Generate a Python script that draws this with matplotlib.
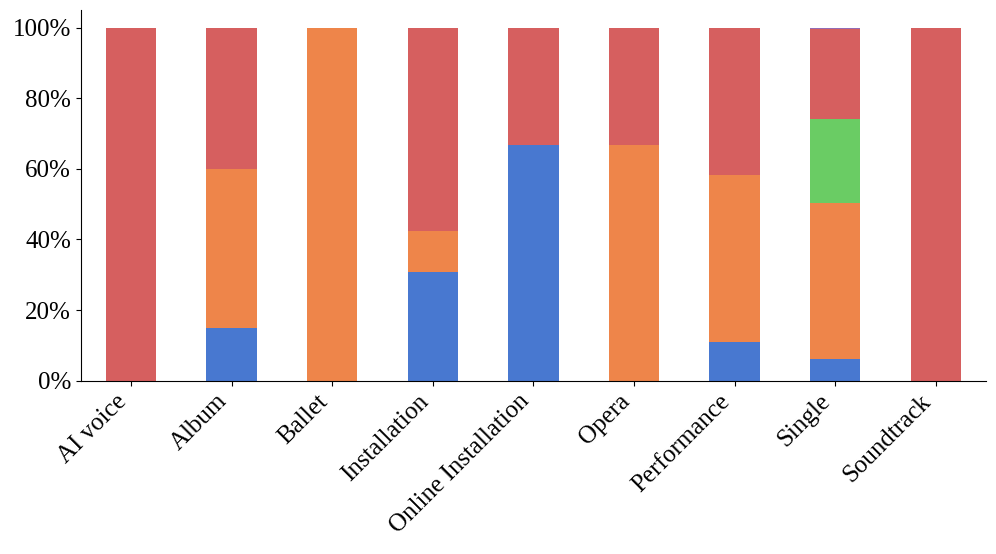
import matplotlib
matplotlib.use("Agg")
import matplotlib.pyplot as plt
from matplotlib import font_manager
import numpy as np
from matplotlib.ticker import PercentFormatter

# share of each type per category (fractions of 1)
categories = ["AI voice", "Album", "Ballet", "Installation", "Online Installation",
              "Opera", "Performance", "Single", "Soundtrack"]
series_a = [0.0, 0.15, 0.0, 8 / 26, 2 / 3, 0.0, 6 / 55, 0.060, 0.0]
series_b = [0.0, 0.45, 1.0, 3 / 26, 0.0, 2 / 3, 26 / 55, 0.443, 0.0]
series_c = [0.0, 0.0, 0.0, 0.0, 0.0, 0.0, 0.0, 0.239, 0.0]
series_d = [1.0, 0.40, 0.0, 15 / 26, 1 / 3, 1 / 3, 23 / 55, 0.253, 1.0]
series_e = [0.0, 0.0, 0.0, 0.0, 0.0, 0.0, 0.0, 0.005, 0.0]

colors = ["#4878d0", "#ee854a", "#6acc64", "#d65f5f", "#956cb4"]

# pick a Times-like font
serif_name = 'DejaVu Serif'
for f in font_manager.fontManager.ttflist:
    if 'LiberationSerif-Regular' in f.fname or (f.name == 'Liberation Serif' and f.style == 'normal'
                                                and f.weight in (400, 'normal')):
        serif_name = f.name
        break
plt.rcParams['font.family'] = [serif_name, 'DejaVu Serif']

fig, ax = plt.subplots(figsize=(9.96, 5.54), dpi=100)
fig.subplots_adjust(left=0.081, right=0.99, top=0.982, bottom=0.313)

x = np.arange(len(categories))
bottom = np.zeros(len(categories))
for vals, col in zip([series_a, series_b, series_c, series_d, series_e], colors):
    vals = np.array(vals)
    ax.bar(x, vals, width=0.5, bottom=bottom, color=col, linewidth=0)
    bottom += vals

ax.set_xlim(-0.5, len(categories) - 0.5)
ax.set_ylim(0, 1.05)
ax.set_yticks([0, 0.2, 0.4, 0.6, 0.8, 1.0])
ax.yaxis.set_major_formatter(PercentFormatter(1.0, decimals=0))
ax.set_xticks(x)
ax.set_xticklabels(categories, rotation=45, ha='right')
ax.tick_params(axis='both', labelsize=18)
ax.spines['top'].set_visible(False)
ax.spines['right'].set_visible(False)

fig.savefig("out.png", dpi=100)
